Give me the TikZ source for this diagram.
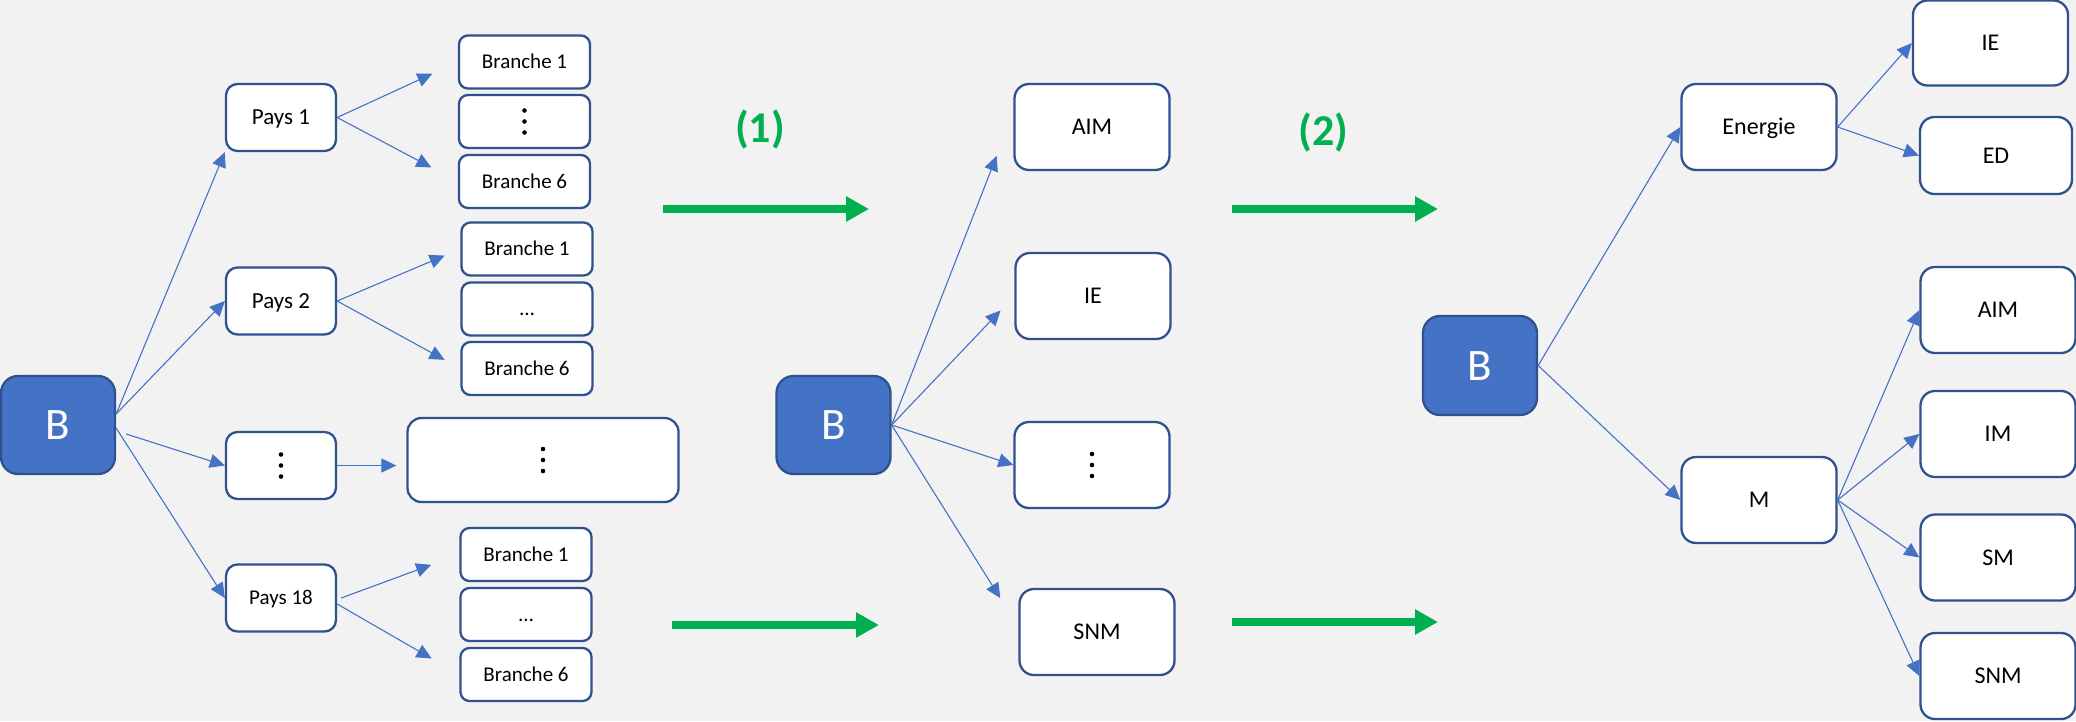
\documentclass[tikz,border=0pt]{standalone}
\usepackage{fontspec}
\setmainfont{Carlito}
\usetikzlibrary{arrows.meta,calc}

\definecolor{canvas}{HTML}{F2F2F2}
\definecolor{edge}{HTML}{2F528F}
\definecolor{accent}{HTML}{4472C4}
\definecolor{flowgreen}{HTML}{00B050}

% three stacked dots used as a placeholder inside boxes
\newcommand\stackeddots{\tikz[x=1pt,y=1pt,baseline=0pt]{\foreach \k in {0,11,22} \fill[black] (0,\k) circle[radius=2.3pt];}}

\tikzset{
  cell/.style={draw=edge, line width=2.3pt, fill=white, inner sep=0pt, text=black},
  rootbox/.style={cell, fill=accent, text=white, minimum width=114pt, minimum height=98pt,
                  rounded corners=17pt, font=\fontsize{45}{54}\selectfont,
                  text height=29pt, text depth=0pt},
  paysbox/.style={cell, minimum width=110pt, minimum height=67pt, rounded corners=11.5pt,
                  font=\fontsize{23}{28}\selectfont, text height=14.8pt, text depth=0pt},
  branchbox/.style={cell, minimum width=131pt, minimum height=53pt, rounded corners=9pt,
                  font=\fontsize{21}{25}\selectfont, text height=13.5pt, text depth=0pt},
  sectorbox/.style={cell, minimum width=155pt, minimum height=86pt, rounded corners=14.5pt,
                  font=\fontsize{24}{29}\selectfont, text height=15.5pt, text depth=0pt},
  natural/.style={text height=, text depth=},
  link/.style={draw=accent, line width=1.1pt, -{Triangle[length=15pt,width=14pt]}},
  flow/.style={draw=flowgreen, line width=8pt, -{Triangle[length=23pt,width=24pt]}},
  flowlabel/.style={text=flowgreen, font=\fontsize{44}{52}\selectfont\bfseries},
}

\begin{document}
\begin{tikzpicture}[x=1pt,y=-1pt]
\useasboundingbox (0,0) rectangle (2076,721);
\fill[canvas] (0,0) rectangle (2076,721);
\clip (0,0) rectangle (2076,721);

% ---------- stage 0: B -> countries -> branches ----------
\node[rootbox] (lB) at (58,425) {B};

\node[paysbox] (p1)  at (281,117.5) {Pays 1};
\node[paysbox] (p2)  at (281,301)   {Pays 2};
\node[paysbox, natural] (pd) at (281,465.5) {\stackeddots};
\node[paysbox, font=\fontsize{21}{25}\selectfont, text height=13.5pt] (p18) at (281,598) {Pays 18};

\node[branchbox] (b11) at (524.5,62)    {Branche 1};
\node[branchbox, natural] (b12) at (524.5,121.5) {\stackeddots};
\node[branchbox] (b16) at (524.5,181.5) {Branche 6};

\node[branchbox] (b21) at (527,249)   {Branche 1};
\node[branchbox] (b22) at (527,309)   {…};
\node[branchbox] (b26) at (527,368.5) {Branche 6};

\node[cell, minimum width=271pt, minimum height=84pt, rounded corners=14pt] (bigd) at (543,460) {\stackeddots};

\node[branchbox] (b31) at (526,554.5) {Branche 1};
\node[branchbox] (b32) at (526,614.5) {…};
\node[branchbox] (b36) at (526,674.5) {Branche 6};

\draw[link] ($(lB.east)+(0,-11)$) -- (p1.south west);
\draw[link] ($(lB.east)+(0,-11)$) -- (p2.west);
\draw[link] ($(lB.east)+(10,9)$)  -- (pd.west);
\draw[link] ($(lB.east)+(0,3)$)   -- (p18.west);

\draw[link, shorten >=28pt] (p1.east) -- (b11.west);
\draw[link, shorten >=30pt] (p1.east) -- (b16.west);
\draw[link, shorten >=17pt] (p2.east) -- (b21.west);
\draw[link, shorten >=18pt] (p2.east) -- (b26.west);
\draw[link, shorten >=10pt] (pd.east) -- (pd.east -| bigd.west);
\draw[link, shorten >=30pt] ($(p18.east)+(4,0)$) -- (b31.west);
\draw[link, shorten >=32pt] ($(p18.east)+(0,6)$) -- (b36.west);

% ---------- step (1) ----------
\coordinate (g1s) at (663,209);   \coordinate (g1e) at (869,209);
\coordinate (g3s) at (672,625);   \coordinate (g3e) at (879,625);
\draw[flow] (g1s) -- (g1e);
\draw[flow] (g3s) -- (g3e);
\node[flowlabel] (lab1) at (760,129) {(1)};

% ---------- stage 1: B -> sectors ----------
\node[rootbox] (mB) at (833.5,425) {B};

\node[sectorbox] (m1) at (1092,127) {AIM};
\node[sectorbox] (m2) at (1093,296) {IE};
\node[sectorbox, natural] (m3) at (1092,465) {\stackeddots};
\node[sectorbox] (m4) at (1097,632) {SNM};

\draw[link, shorten >=46pt] (mB.east) -- ($(m1.west)+(0,-14)$);
\draw[link, shorten >=20pt] (mB.east) -- (m2.west);
\draw[link] (mB.east) -- (m3.west);
\draw[link, shorten >=34pt] (mB.east) -- ($(m4.west)+(0,-5)$);

% ---------- step (2) ----------
\coordinate (g2s) at (1232,209);  \coordinate (g2e) at (1438,209);
\coordinate (g4s) at (1232,622);  \coordinate (g4e) at (1438,622);
\draw[flow] (g2s) -- (g2e);
\draw[flow] (g4s) -- (g4e);
\node[flowlabel] (lab2) at (1323.5,132) {(2)};

% ---------- stage 2: B -> Energie / M -> sectors ----------
\node[rootbox, minimum height=99pt] (rB) at (1480,365.5) {B};

\node[sectorbox] (en) at (1759,127) {Energie};
\node[sectorbox] (mm) at (1759,500) {M};

\node[sectorbox, minimum height=85pt] (r1) at (1990.5,43) {IE};
\node[sectorbox, minimum width=152pt, minimum height=77pt] (r2) at (1996,155.5) {ED};
\node[sectorbox] (r3) at (1998,310)   {AIM};
\node[sectorbox] (r4) at (1998,434)   {IM};
\node[sectorbox] (r5) at (1998,557.5) {SM};
\node[sectorbox] (r6) at (1998,676)   {SNM};

\draw[link] (rB.east) -- (en.west);
\draw[link] (rB.east) -- (mm.west);
\draw[link] (en.east) -- (r1.west);
\draw[link] (en.east) -- (r2.west);
\draw[link] (mm.east) -- (r3.west);
\draw[link] (mm.east) -- (r4.west);
\draw[link] (mm.east) -- (r5.west);
\draw[link] (mm.east) -- (r6.west);
\end{tikzpicture}
\end{document}
